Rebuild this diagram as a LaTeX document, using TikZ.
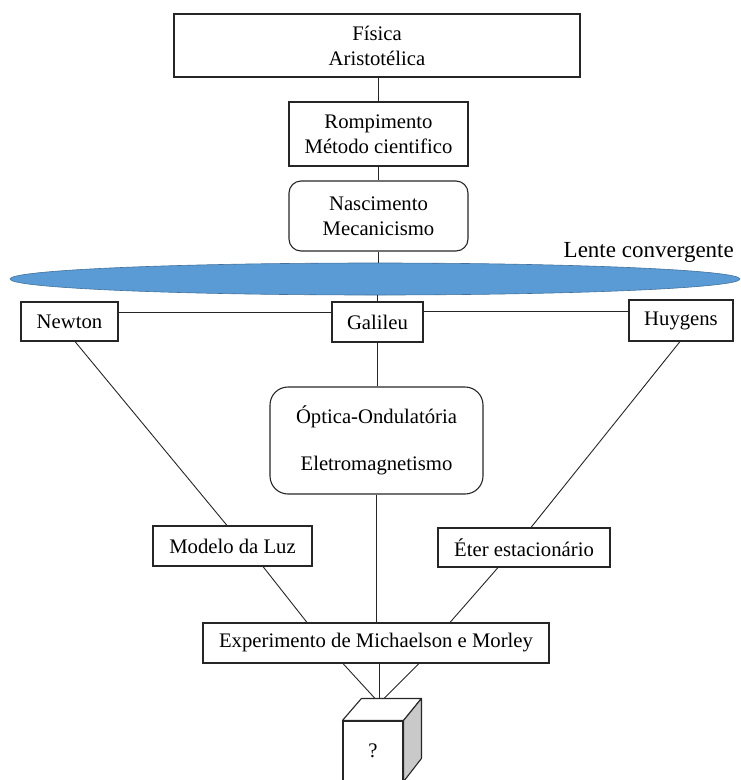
\documentclass[tikz,border=0pt]{standalone}
\usepackage{fontspec}
\setmainfont{Liberation Serif}
\usetikzlibrary{shapes.geometric,calc}
\definecolor{lensblue}{HTML}{5B9BD5}
\definecolor{lensedge}{HTML}{41719C}
\definecolor{sidegray}{HTML}{C9C9C9}
\tikzset{
  txt/.style={font=\fontsize{20.7}{25}\selectfont, align=center, inner sep=0pt},
  sqbox/.style={txt, draw=black!85, line width=1.1pt, rectangle},
  rbox/.style={txt, draw=black!85, line width=1.1pt, rectangle, rounded corners=12pt},
  conn/.style={draw=black!85, line width=0.9pt},
}
\begin{document}
\begin{tikzpicture}[x=1pt,y=-1pt]
\useasboundingbox (0,0) rectangle (741,780);

\node[sqbox, line width=1.3pt, minimum width=406pt, minimum height=63pt] (fisica) at (377,45.5) {Física\\Aristotélica};
\node[sqbox, minimum width=179pt, minimum height=64pt] (romp) at (378.5,134) {Rompimento\\Método cientifico};
\node[rbox, minimum width=179pt, minimum height=70pt] (nasc) at (378.5,216) {Nascimento\\Mecanicismo};

\node[ellipse, draw=lensedge, line width=0.6pt, fill=lensblue, minimum width=730pt, minimum height=32pt, inner sep=0pt] (lens) at (375,279) {};
\node[txt, font=\fontsize{23}{27}\selectfont, anchor=base east] (lente) at (734,257) {Lente convergente};

\node[sqbox, minimum width=97pt, minimum height=39pt] (newton) at (69.5,321.5) {Newton};
\node[sqbox, minimum width=91pt, minimum height=40pt] (galileu) at (377.5,322) {Galileu};
\node[sqbox, minimum width=104pt, minimum height=41pt] (huygens) at (681,320.5) {Huygens};

\node[rbox, rounded corners=18pt, minimum width=213pt, minimum height=107pt] (optica) at (376.5,440.5) {Óptica-Ondulatória\\[22pt]Eletromagnetismo};

\node[sqbox, minimum width=159pt, minimum height=40pt] (modelo) at (232.5,546) {Modelo da Luz};
\node[sqbox, minimum width=172pt, minimum height=39pt] (eter) at (524,547.5) {Éter estacionário};
\node[sqbox, minimum width=346pt, minimum height=40pt] (exp) at (376,643) {Experimento de Michaelson e Morley};

% cube
\node[sqbox, fill=white, minimum width=60pt, minimum height=60pt] (cube) at (373,751) {?};
\draw[draw=black!85, line width=1.1pt, fill=white, line join=round] (cube.north west) -- ++(19pt,22pt) coordinate (ctl) -- ++(60pt,0pt) coordinate (ctr) -- (cube.north east) -- cycle;
\draw[draw=black!85, line width=1.1pt, fill=sidegray, line join=round] (cube.north east) -- (ctr) -- ++(0pt,-60pt) -- (cube.south east) -- cycle;

% connectors
\draw[conn] (romp.north |- fisica.south) -- (romp.north);
\draw[conn] (romp.south) -- (nasc.north);
\draw[conn] (nasc.south) -- (nasc.south |- lens.north);
\draw[conn] (galileu.north |- lens.south) -- (galileu.north);
\draw[conn] ([yshift=9.5pt]newton.east) -- ([yshift=9.5pt]newton.east -| galileu.west);
\draw[conn] ([yshift=11pt]galileu.east) -- ([yshift=11pt]galileu.east -| huygens.west);
\draw[conn] (galileu.south) -- (galileu.south |- optica.north);
\draw[conn] (optica.south) -- (optica.south |- exp.north);
\draw[conn] ([xshift=5.5pt]newton.south) -- ([xshift=-5.5pt]modelo.north);
\draw[conn] ([xshift=-1pt]huygens.south) -- ([xshift=7pt]eter.north);
\draw[conn] ([xshift=30.5pt]modelo.south) -- ([xshift=-69pt]exp.north);
\draw[conn] ([xshift=-26pt]eter.south) -- ([xshift=74pt]exp.north);
\draw[conn] ([xshift=-33pt]exp.south) -- ([shift={(2pt,22pt)}]cube.north);
\draw[conn] ([xshift=3pt]exp.south) -- ([shift={(6pt,22pt)}]cube.north);
\draw[conn] ([xshift=43pt]exp.south) -- ([shift={(11pt,22pt)}]cube.north);
\end{tikzpicture}
\end{document}
